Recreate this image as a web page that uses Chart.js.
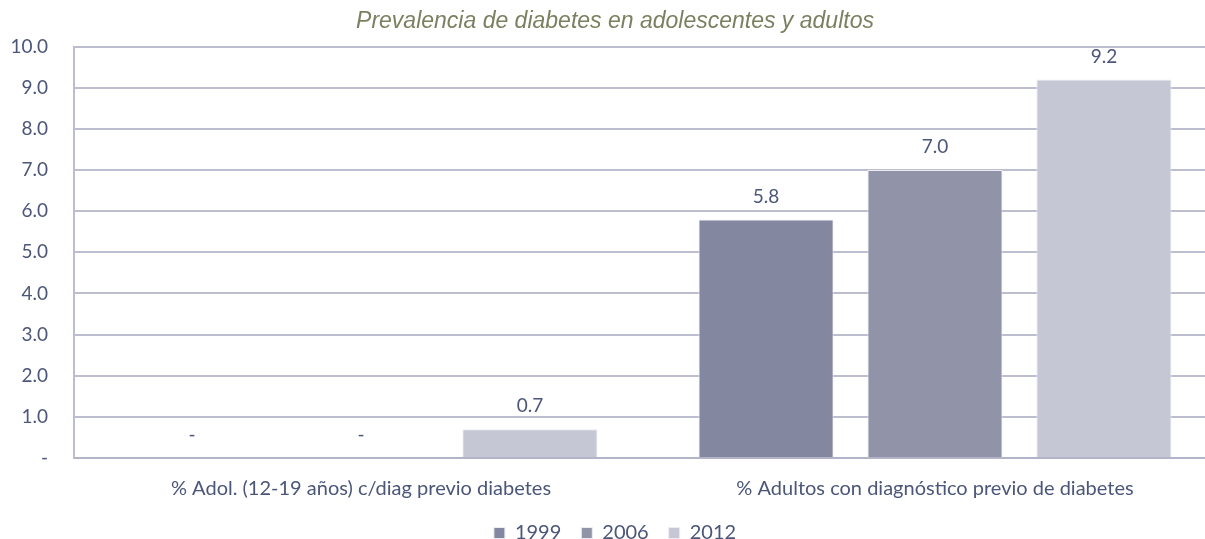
<!DOCTYPE html>
<html>
<head>
<meta charset="utf-8">
<script src="https://cdn.jsdelivr.net/npm/chart.js@4.4.1/dist/chart.umd.min.js"></script>
<style>
  html, body { margin: 0; padding: 0; background: #ffffff; overflow: hidden; }
  #wrap { position: relative; width: 1222px; height: 539px; }
</style>
</head>
<body>
<div id="wrap"><canvas id="c"></canvas></div>
<script>
const titleText = 'Prevalencia de diabetes en adolescentes y adultos';
const categories = ['% Adol. (12-19 años) c/diag previo diabetes', '% Adultos con diagnóstico previo de diabetes'];
const seriesNames = ['1999', '2006', '2012'];
const values1999 = [0, 5.8];
const values2006 = [0, 7.0];
const values2012 = [0.7, 9.2];
const seriesColors = ['#83879f', '#9194a9', '#c5c7d5'];
const yTicks = [0, 1, 2, 3, 4, 5, 6, 7, 8, 9, 10];

const textColor = '#4b5679';
const gridColor = '#bdbdd0';

const fmt = v => (v === 0 ? '-' : v.toFixed(1));

const valueLabels = {
  id: 'valueLabels',
  afterDatasetsDraw(chart) {
    const ctx = chart.ctx;
    ctx.save();
    ctx.font = '19px Lato';
    ctx.fillStyle = textColor;
    ctx.textAlign = 'center';
    ctx.textBaseline = 'middle';
    chart.data.datasets.forEach((ds, i) => {
      const meta = chart.getDatasetMeta(i);
      meta.data.forEach((bar, j) => {
        ctx.fillText(fmt(ds.data[j]), bar.x, bar.y - 23);
      });
    });
    ctx.restore();
  }
};

const legendHeight = {
  id: 'legendHeight',
  beforeInit(chart) {
    const origFit = chart.legend.fit;
    chart.legend.fit = function () {
      origFit.call(this);
      this.height = 36;
    };
  }
};

const data = {
  labels: categories,
  datasets: [
    { label: seriesNames[0], data: values1999, backgroundColor: seriesColors[0] },
    { label: seriesNames[1], data: values2006, backgroundColor: seriesColors[1] },
    { label: seriesNames[2], data: values2012, backgroundColor: seriesColors[2] }
  ]
};

new Chart(document.getElementById('c'), {
  type: 'bar',
  data,
  plugins: [valueLabels, legendHeight],
  options: {
    responsive: true,
    maintainAspectRatio: false,
    animation: false,
    datasets: { bar: { categoryPercentage: 0.883, barPercentage: 0.8, borderWidth: 1, borderColor: '#ececf2' } },
    layout: { padding: { left: 8, right: 0, top: 2, bottom: 0 } },
    plugins: {
      title: {
        display: true,
        text: titleText,
        color: '#7b8060',
        font: { family: 'Liberation Sans', size: 23, style: 'italic', weight: 'normal' },
        padding: { top: 6, bottom: 11 }
      },
      legend: {
        display: true,
        position: 'bottom',
        labels: {
          color: textColor,
          font: { family: 'Lato', size: 20 },
          boxWidth: 11,
          boxHeight: 11,
          padding: 20
        }
      },
      tooltip: { enabled: false }
    },
    scales: {
      x: {
        grid: { display: false, drawTicks: false },
        border: { display: true, color: '#b4b4c8', width: 2 },
        afterFit: axis => { axis.height = 45; },
        ticks: { color: textColor, font: { family: 'Lato', size: 20 }, padding: 19 }
      },
      y: {
        min: 0,
        max: 10,
        afterBuildTicks: axis => { axis.ticks = yTicks.map(v => ({ value: v })); },
        afterFit: axis => { axis.width = 66; },
        grid: { color: gridColor, lineWidth: 2, drawTicks: false },
        border: { display: true, color: gridColor, width: 2 },
        ticks: {
          color: textColor,
          font: { family: 'Lato', size: 19 },
          padding: 26,
          callback: v => fmt(v)
        }
      }
    }
  }
});
</script>
</body>
</html>
